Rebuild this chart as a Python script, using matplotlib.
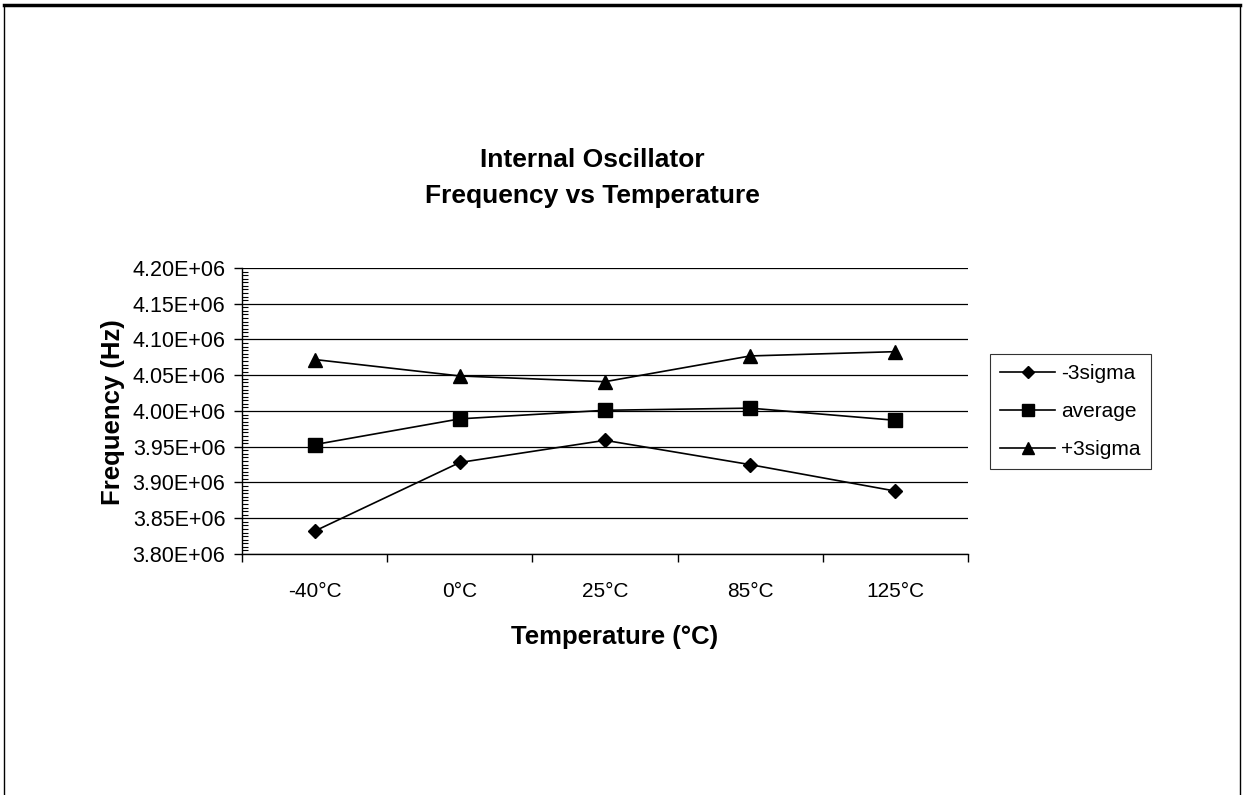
import matplotlib
matplotlib.use("Agg")
import matplotlib.pyplot as plt
from matplotlib.ticker import MultipleLocator, FixedLocator, FuncFormatter
from matplotlib.lines import Line2D

plt.rcParams['font.family'] = ['Liberation Sans', 'DejaVu Sans']

categories = ["-40°C", "0°C", "25°C", "85°C", "125°C"]
minus3sigma = [3.832e6, 3.928e6, 3.959e6, 3.925e6, 3.888e6]
average = [3.953e6, 3.989e6, 4.001e6, 4.004e6, 3.987e6]
plus3sigma = [4.072e6, 4.049e6, 4.041e6, 4.077e6, 4.083e6]
series_names = ["-3sigma", "average", "+3sigma"]

W, H = 1246, 795
fig = plt.figure(figsize=(W / 100, H / 100), dpi=100)
ax = fig.add_axes([242 / W, 1 - 554 / H, (968 - 242) / W, (554 - 268) / H])

x = list(range(len(categories)))
ax.plot(x, minus3sigma, color='black', lw=1.2, marker='D', ms=7.5, label=series_names[0])
ax.plot(x, average, color='black', lw=1.2, marker='s', ms=9.5, label=series_names[1])
ax.plot(x, plus3sigma, color='black', lw=1.2, marker='^', ms=10, label=series_names[2])

ax.set_xlim(-0.5, len(categories) - 0.5)
ax.set_ylim(3.80e6, 4.20e6)

# y axis
ax.yaxis.set_major_locator(MultipleLocator(0.05e6))
ax.yaxis.set_minor_locator(MultipleLocator(0.005e6))
ax.yaxis.set_major_formatter(FuncFormatter(lambda v, p: "%.2fE+06" % (v / 1e6)))
ax.tick_params(axis='y', which='major', direction='out', length=6, width=1, labelsize=15.5, pad=6)
ax.tick_params(axis='y', which='minor', direction='in', length=4, width=0.8)
ax.grid(axis='y', which='major', color='black', lw=0.9)

# x axis: ticks between categories, labels at centers
ax.xaxis.set_major_locator(FixedLocator([i - 0.5 for i in range(len(categories) + 1)]))
ax.xaxis.set_major_formatter(FuncFormatter(lambda v, p: ""))
ax.xaxis.set_minor_locator(FixedLocator(x))
ax.set_xticklabels(categories, minor=True)
ax.tick_params(axis='x', which='major', direction='out', length=6, width=1)
ax.tick_params(axis='x', which='minor', length=0, labelsize=15, pad=20)

for s in ['top', 'right']:
    ax.spines[s].set_visible(False)
for s in ['left', 'bottom']:
    ax.spines[s].set_linewidth(1)
    ax.spines[s].set_color('black')

ax.set_axisbelow(True)

fig.text(592 / W, 1 - 178 / H, "Internal Oscillator\nFrequency vs Temperature",
         ha='center', va='center', fontsize=19, fontweight='bold', linespacing=1.65)
fig.text(615 / W, 1 - 637 / H, "Temperature (°C)", ha='center', va='center',
         fontsize=18.5, fontweight='bold')
fig.text(113 / W, 1 - 412 / H, "Frequency (Hz)", ha='center', va='center',
         rotation=90, fontsize=18.5, fontweight='bold')

leg = ax.legend(loc='upper left', bbox_to_anchor=(990 / W, 1 - 354 / H),
                bbox_transform=fig.transFigure, frameon=True, fancybox=False,
                edgecolor='black', fontsize=15, handlelength=2.6, handletextpad=0.3,
                labelspacing=0.9, borderpad=0.5, borderaxespad=0)
leg.get_frame().set_linewidth(0.8)
for h in leg.legend_handles:
    h.set_markersize(h.get_markersize() * 0.85)

# figure frame (top, left, right)
fig.add_artist(Line2D([4 / W, 1240 / W], [1 - 5 / H, 1 - 5 / H], transform=fig.transFigure, color='black', lw=2.5))
fig.add_artist(Line2D([4 / W, 4 / W], [0, 1 - 5 / H], transform=fig.transFigure, color='black', lw=1))
fig.add_artist(Line2D([1240 / W, 1240 / W], [0, 1 - 5 / H], transform=fig.transFigure, color='black', lw=1))

fig.savefig("out.png", dpi=100)
